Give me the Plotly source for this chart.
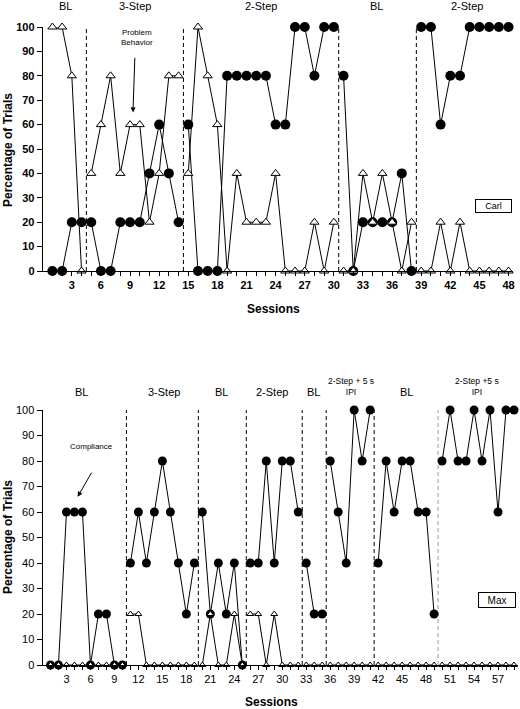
import plotly.graph_objects as go

# ---------------- DATA ----------------
carl_sessions = list(range(1, 49))
carl_circles = [0, 0, 20, 20,
                20, 0, 0, 20, 20, 20, 40, 60, 40, 20,
                60, 0, 0, 0, 80, 80, 80, 80, 80, 60, 60, 100, 100, 80, 100, 100,
                80, 0, 20, 20, 20, 20, 40, 0,
                100, 100, 60, 80, 80, 100, 100, 100, 100, 100]
carl_triangles = [100, 100, 80, 0,
                  40, 60, 80, 40, 60, 60, 20, 40, 80, 80,
                  40, 100, 80, 60, 0, 40, 20, 20, 20, 40, 0, 0, 0, 20, 0, 20,
                  0, 0, 40, 20, 40, 20, 0, 20,
                  0, 0, 20, 0, 20, 0, 0, 0, 0, 0]
carl_phase_lines = [4.5, 14.5, 30.5, 38.5]
carl_phase_labels = ["BL", "3-Step", "2-Step", "BL", "2-Step"]
carl_label_x = [2.3, 9.5, 22.5, 34.4, 43.7]

max_sessions = list(range(1, 60))
max_circles = [0, 0, 60, 60, 60, 0, 20, 20, 0, 0,
               40, 60, 40, 60, 80, 60, 40, 20, 40,
               60, 20, 40, 20, 40, 0,
               40, 40, 80, 40, 80, 80, 60,
               40, 20, 20,
               80, 60, 40, 100, 80, 100,
               40, 80, 60, 80, 80, 60, 60, 20,
               80, 100, 80, 80, 100, 80, 100, 60, 100, 100]
max_triangles = [0, 0, 0, 0, 0, 0, 0, 0, 0, 0,
                 20, 20, 0, 0, 0, 0, 0, 0, 0,
                 0, 20, 0, 0, 20, 0,
                 20, 20, 0, 20, 0, 0, 0,
                 0, 0, 0,
                 0, 0, 0, 0, 0, 0,
                 0, 0, 0, 0, 0, 0, 0, 0,
                 0, 0, 0, 0, 0, 0, 0, 0, 0, 0]
max_phase_lines = [10.5, 19.5, 25.5, 32.5, 35.5, 41.5, 49.5]
max_phase_labels = ["BL", "3-Step", "BL", "2-Step", "BL", "2-Step + 5 s<br>IPI", "BL", "2-Step +5 s<br>IPI"]
max_label_x = [4.9, 15.25, 22.4, 28.75, 33.9, 38.6, 45.5, 54.4]

y_ticks = list(range(0, 101, 10))

FONT = "Liberation Sans, Arial, sans-serif"


def segmented(xs, ys, bounds):
    ox, oy = [], []
    prev = None
    for x, y in zip(xs, ys):
        if prev is not None and any(prev < b < x for b in bounds):
            ox.append(None)
            oy.append(None)
        ox.append(x)
        oy.append(y)
        prev = x
    return ox, oy


fig = go.Figure()


def add_panel(xs, circ, tri, bounds, xa, ya, csize, tsize):
    cx, cy = segmented(xs, circ, bounds)
    tx, ty = segmented(xs, tri, bounds)
    fig.add_trace(go.Scatter(x=cx, y=cy, mode="lines+markers", xaxis=xa, yaxis=ya,
                             line=dict(color="black", width=1),
                             marker=dict(symbol="circle", size=csize, color="black"),
                             cliponaxis=False, showlegend=False, hoverinfo="skip"))
    fig.add_trace(go.Scatter(x=tx, y=ty, mode="lines+markers", xaxis=xa, yaxis=ya,
                             line=dict(color="black", width=1),
                             marker=dict(symbol="triangle-up", size=tsize, color="white",
                                         line=dict(color="black", width=1)),
                             cliponaxis=False, showlegend=False, hoverinfo="skip"))


add_panel(carl_sessions, carl_circles, carl_triangles, carl_phase_lines, "x", "y", 10, 8)
add_panel(max_sessions, max_circles, max_triangles, max_phase_lines, "x2", "y2", 9, 6)

shapes = []
for b in carl_phase_lines:
    shapes.append(dict(type="line", xref="x", yref="y", x0=b, x1=b, y0=0, y1=101,
                       line=dict(color="black", width=1, dash="4px,3px"), layer="below"))
for b in max_phase_lines:
    col = "#999999" if b == max_phase_lines[-1] else "black"
    shapes.append(dict(type="line", xref="x2", yref="y2", x0=b, x1=b, y0=0, y1=100,
                       line=dict(color=col, width=1, dash="4px,3px"), layer="below"))

annotations = []
for lab, x in zip(carl_phase_labels, carl_label_x):
    annotations.append(dict(text=lab, x=x, xref="x", y=703 / 709, yref="paper",
                            showarrow=False, font=dict(size=11, color="black", family=FONT),
                            xanchor="center", yanchor="middle"))
for lab, x in zip(max_phase_labels, max_label_x):
    if "<br>" in lab:
        annotations.append(dict(text=lab, x=x, xref="x2", y=(709 - 386) / 709, yref="paper",
                                showarrow=False, font=dict(size=8.5, color="black", family=FONT),
                                xanchor="center", yanchor="middle"))
    else:
        annotations.append(dict(text=lab, x=x, xref="x2", y=(709 - 392) / 709, yref="paper",
                                showarrow=False, font=dict(size=11, color="black", family=FONT),
                                xanchor="center", yanchor="middle"))

# Problem behavior annotation (top)
annotations.append(dict(text="Problem<br>Behavior", x=9.7, xref="x", y=95.5, yref="y",
                        showarrow=False, font=dict(size=8, color="black", family=FONT)))
annotations.append(dict(text="", x=9.3, y=65, xref="x", yref="y", ax=9.5, ay=88,
                        axref="x", ayref="y", showarrow=True, arrowhead=2, arrowsize=1,
                        arrowwidth=1, arrowcolor="black"))
# Compliance annotation (bottom)
annotations.append(dict(text="Compliance", x=6.1, xref="x2", y=85.5, yref="y2",
                        showarrow=False, font=dict(size=8, color="black", family=FONT)))
annotations.append(dict(text="", x=4.4, y=66, xref="x2", yref="y2", ax=6.25, ay=76,
                        axref="x2", ayref="y2", showarrow=True, arrowhead=2, arrowsize=1,
                        arrowwidth=1, arrowcolor="black"))
# Name boxes
annotations.append(dict(text="Carl", x=46.5, xref="x", y=26.6, yref="y", showarrow=False,
                        font=dict(size=9, color="black", family=FONT), bordercolor="black",
                        borderwidth=1, borderpad=1, width=33, height=10, bgcolor="white"))
annotations.append(dict(text="Max", x=56.9, xref="x2", y=25.5, yref="y2", showarrow=False,
                        font=dict(size=10, color="black", family=FONT), bordercolor="black",
                        borderwidth=1, borderpad=1, width=34, height=12, bgcolor="white"))
# Axis titles
for yc in [150, 537]:
    annotations.append(dict(text="<b>Percentage of Trials</b>", x=8 / 520, y=(709 - yc) / 709,
                            xref="paper", yref="paper", showarrow=False, textangle=-90,
                            font=dict(size=12, color="black", family=FONT),
                            xanchor="center", yanchor="middle"))
for yc, xc in [(309, 273), (702, 271)]:
    annotations.append(dict(text="<b>Sessions</b>", x=xc / 520, y=(709 - yc) / 709,
                            xref="paper", yref="paper", showarrow=False,
                            font=dict(size=12, color="black", family=FONT),
                            xanchor="center", yanchor="middle"))

carl_ticktext = [str(s) if s % 3 == 0 else "" for s in carl_sessions]
max_ticktext = [str(s) if s % 3 == 0 else "" for s in max_sessions]

common_x = dict(showline=True, linecolor="black", linewidth=1, ticks="outside", ticklen=4,
                tickcolor="black", showgrid=False, zeroline=False, automargin=False)
common_y = dict(showline=True, linecolor="black", linewidth=1, ticks="outside", ticklen=5,
                tickcolor="black", showgrid=False, zeroline=False, automargin=False,
                tickvals=y_ticks, range=[0, 100])

fig.update_layout(
    width=520, height=709, autosize=False,
    margin=dict(l=0, r=0, t=0, b=0),
    paper_bgcolor="white", plot_bgcolor="white",
    template="none",
    hovermode=False,
    xaxis=dict(domain=[42.7 / 520, 513.4 / 520], range=[0, 48.5], anchor="y",
               tickvals=carl_sessions, ticktext=carl_ticktext,
               tickfont=dict(size=11, color="black", family="Liberation Sans, Arial", weight="bold"),
               **common_x),
    yaxis=dict(domain=[(709 - 271) / 709, (709 - 27) / 709], anchor="x",
               tickfont=dict(size=11, color="black", family="Liberation Sans, Arial", weight="bold"),
               **common_y),
    xaxis2=dict(domain=[42.5 / 520, 518 / 520], range=[0, 59.5], anchor="y2",
                tickvals=max_sessions, ticktext=max_ticktext,
                tickfont=dict(size=11, color="black", family=FONT),
                **common_x),
    yaxis2=dict(domain=[44 / 709, 299 / 709], anchor="x2",
                tickfont=dict(size=11, color="black", family=FONT),
                **common_y),
    shapes=shapes,
    annotations=annotations,
)

fig.write_html("out.html", config={"displayModeBar": False, "staticPlot": True},
               post_script="document.body.style.margin='0';")
